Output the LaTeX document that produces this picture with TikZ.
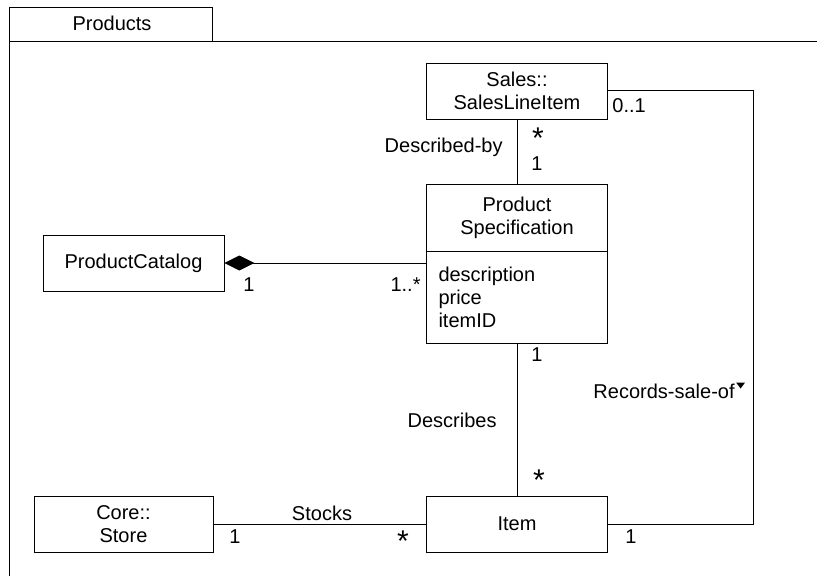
\documentclass[tikz,border=0pt]{standalone}
\usepackage{fontspec}
\setmainfont{Liberation Sans}
\usetikzlibrary{arrows.meta,positioning}

\begin{document}
\begin{tikzpicture}[x=1pt, y=-1pt, line width=0.9pt,
    every node/.style={font=\fontsize{20}{23}\selectfont, inner sep=0pt},
    classbox/.style={draw, minimum width=181, minimum height=56, align=center},
    manystar/.style={anchor=north, font=\fontsize{30}{30}\selectfont}]
  \useasboundingbox (0,0) rectangle (817,576);
  % package frame
  \draw (9.5,576) -- (9.5,7.5) -- (212.5,7.5) -- (212.5,41);
  \draw (9.5,41) -- (817,41);
  \node[anchor=base] (pkgname) at (112,30.5) {Products};
  % classes
  \node[classbox] (sales) at (517,91) {Sales::\\SalesLineItem};
  \node[classbox, minimum height=67] (spec) at (517,217.5) {Product\\Specification};
  \node[draw, minimum width=181, minimum height=92, text width=157, align=left] (specattr) at (517,297) {description\\price\\itemID};
  \node[classbox] (catalog) at (133.5,263) {ProductCatalog};
  \node[classbox, minimum width=179] (store) at (123.5,524) {Core::\\Store};
  \node[classbox] (item) at (517,524) {Item};
  \coordinate (bend) at (753.5,90);
  % associations
  \foreach \a/\b in {sales/spec,specattr/item,store/item}{\draw (\a) -- (\b);}
  \draw[{Diamond[length=30pt,width=15pt]}-] (catalog.east) -- (catalog -| specattr.west);
  \draw (item.east) -| (bend) -- (bend -| sales.east);
  % association names
  \node[anchor=base east] (descby) at (503,152) {Described-by};
  \node[anchor=base east] (describes) at (497,427) {Describes};
  \node[anchor=base] (stocks) at (322,520) {Stocks};
  \node[anchor=base west] (recsale) at (593,398) {Records-sale-of};
  \fill ([shift={(1,-15.5)}]recsale.base east) -- ([shift={(10,-15.5)}]recsale.base east) -- ([shift={(5.5,-9.5)}]recsale.base east) -- cycle;
  % multiplicities
  \node[manystar] (msalesspec) at (538,127.5) {*};
  \node[anchor=base west] (mspecsales) at (531,170) {1};
  \node[anchor=base west] (msalesrec) at (612,112) {0..1};
  \node[anchor=base west] (mcatalog) at (243,291) {1};
  \node[anchor=base east] (mcatspec) at (421,291) {1..*};
  \node[anchor=base west] (mspecitem) at (531,361) {1};
  \node[manystar] (mitemspec) at (539,469.5) {*};
  \node[anchor=base west] (mstore) at (229,543) {1};
  \node[manystar] (mitemstore) at (403,530.5) {*};
  \node[anchor=base west] (mitemrec) at (625,543) {1};
\end{tikzpicture}
\end{document}
